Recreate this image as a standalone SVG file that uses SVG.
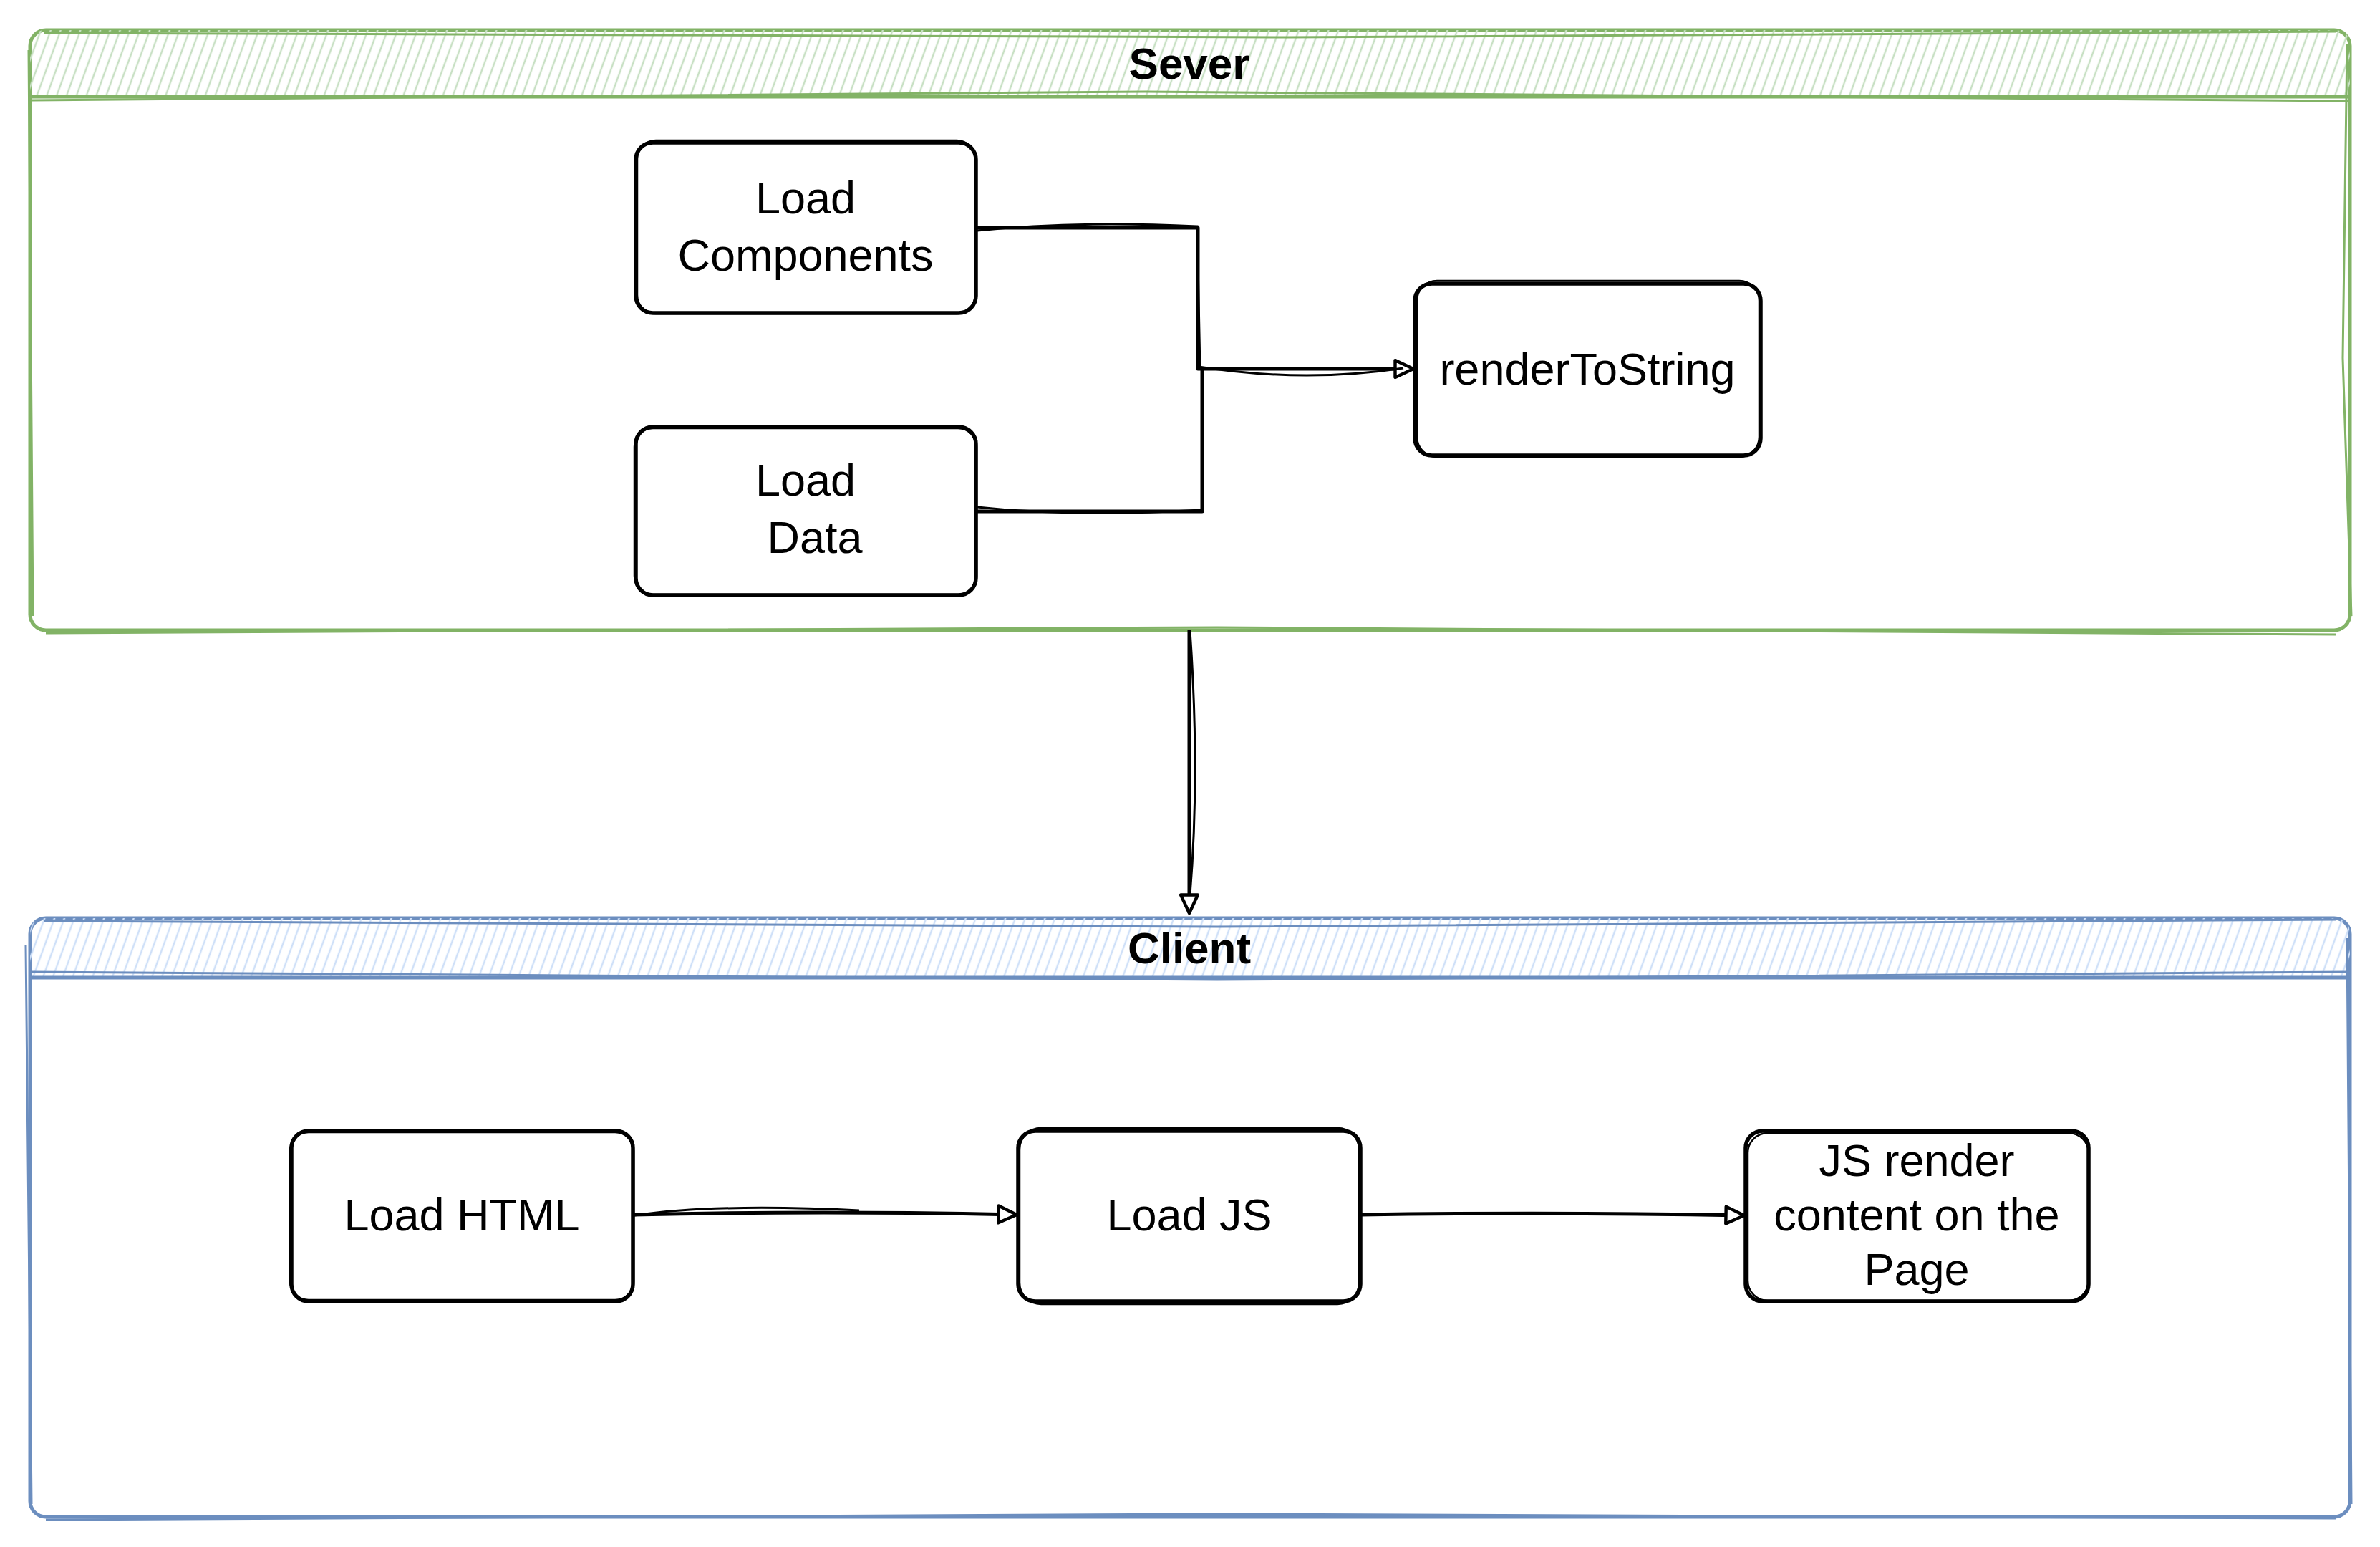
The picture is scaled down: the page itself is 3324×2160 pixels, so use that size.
<svg xmlns="http://www.w3.org/2000/svg" width="3324" height="2160" viewBox="0 0 3324 2160">
<style>
.node{fill:#ffffff;stroke:#000000;stroke-width:5.5}
.node2{fill:none;stroke:#000000;stroke-width:2.5}
.lbl{font-family:"Liberation Sans",Arial,sans-serif;font-size:63px;fill:#000000;text-anchor:middle}
.title{font-family:"Liberation Sans",Arial,sans-serif;font-size:62px;font-weight:bold;fill:#000000;text-anchor:middle}
.conn{fill:none;stroke:#000000;stroke-width:5;stroke-linejoin:round}
.conn2{fill:none;stroke:#000000;stroke-width:3}
.srv{fill:#ffffff;stroke:#82b366;stroke-width:5}
.cli{fill:#ffffff;stroke:#6c8ebf;stroke-width:5}
.srv2{fill:none;stroke:#82b366;stroke-width:3}
.cli2{fill:none;stroke:#6c8ebf;stroke-width:3}
</style>
<defs>
<pattern id="hg" width="13" height="13" patternUnits="userSpaceOnUse" patternTransform="rotate(20)">
<line x1="3" y1="0" x2="3" y2="13" stroke="#c8e0c4" stroke-width="2.5"/>
</pattern>
<pattern id="hb" width="13" height="13" patternUnits="userSpaceOnUse" patternTransform="rotate(20)">
<line x1="3" y1="0" x2="3" y2="13" stroke="#cfe0f8" stroke-width="2.5"/>
</pattern>
<marker id="arr" viewBox="0 0 20 20" refX="18" refY="10" markerWidth="34" markerHeight="34" orient="auto" markerUnits="userSpaceOnUse">
<path d="M3,3 L18,10 L3,17 Z" fill="#ffffff" stroke="#000000" stroke-width="2.6" stroke-linejoin="round"/>
</marker>
</defs>
<rect width="3324" height="2160" fill="#ffffff"/>

<g id="sever">
<rect class="srv" x="42" y="42" width="3240" height="838" rx="22"/>
<path d="M42,135 V64 Q42,42 64,42 H3260 Q3282,42 3282,64 V135 Z" fill="url(#hg)" stroke="none"/>
<line class="srv" x1="42" y1="135" x2="3282" y2="135"/>
<path class="srv2" d="M44,140 L1600,128 L3280,141"/>
<path class="srv2" d="M62,46 L1800,52 L3262,44 M3278,62 L3272,500 L3284,860 M40,70 L46,860 M64,884 L1700,876 L3262,886"/>
<text class="title" x="1661" y="110">Sever</text>
</g>

<g id="client">
<rect class="cli" x="42" y="1282" width="3240" height="836" rx="22"/>
<path d="M42,1365 V1304 Q42,1282 64,1282 H3260 Q3282,1282 3282,1304 V1365 Z" fill="url(#hb)" stroke="none"/>
<line class="cli" x1="42" y1="1365" x2="3282" y2="1365"/>
<path class="cli2" d="M44,1357 L1700,1368 L3280,1357"/>
<path class="cli2" d="M62,1286 L1700,1294 L3262,1284 M36,1320 L44,2100 M3278,1310 L3284,2100 M64,2122 L1700,2114 L3262,2120"/>
<text class="title" x="1661" y="1345">Client</text>
</g>

<g id="load-components">
<rect class="node" x="888" y="199" width="475" height="238" rx="24"/>
<rect class="node2" x="890" y="196" width="472" height="242" rx="26"/>
<text class="lbl" x="1125" y="298">Load</text>
<text class="lbl" x="1125" y="378">Components</text>
</g>

<g id="load-data">
<rect class="node" x="888" y="596" width="475" height="235" rx="24"/>
<rect class="node2" x="886" y="598" width="478" height="232" rx="26"/>
<text class="lbl" x="1125" y="692">Load</text>
<text class="lbl" x="1138" y="772">Data</text>
</g>

<g id="render-to-string">
<rect class="node" x="1976" y="396" width="483" height="240" rx="24"/>
<rect class="node2" x="1979" y="392" width="478" height="246" rx="28"/>
<text class="lbl" x="2217" y="537">renderToString</text>
</g>

<g id="load-html">
<rect class="node" x="407" y="1579" width="477" height="238" rx="24"/>
<rect class="node2" x="405" y="1581" width="480" height="234" rx="26"/>
<text class="lbl" x="645" y="1718">Load HTML</text>
</g>

<g id="load-js">
<rect class="node" x="1422" y="1579" width="478" height="238" rx="24"/>
<rect class="node2" x="1424" y="1575" width="474" height="246" rx="30"/>
<text class="lbl" x="1661" y="1718">Load JS</text>
</g>

<g id="js-render">
<rect class="node" x="2438" y="1579" width="479" height="238" rx="24"/>
<rect class="node2" x="2441" y="1582" width="476" height="234" rx="28"/>
<text class="lbl" x="2677" y="1642">JS render</text>
<text class="lbl" x="2677" y="1718">content on the</text>
<text class="lbl" x="2677" y="1794">Page</text>
</g>

<g id="connectors">
<path class="conn" d="M1363,318 H1673 V515 H1974" marker-end="url(#arr)"/>
<path class="conn2" d="M1365,322 Q1500,308 1672,316 L1676,515"/>
<path class="conn" d="M1363,714 H1679 V515"/>
<path class="conn2" d="M1365,708 Q1500,722 1678,712 M1674,512 Q1820,535 1960,514"/>
<path class="conn" d="M1661,880 V1275" marker-end="url(#arr)"/>
<path class="conn2" d="M1662,880 Q1676,1080 1662,1250"/>
<path class="conn" d="M884,1696 Q1150,1690 1420,1696" marker-end="url(#arr)"/>
<path class="conn2" d="M886,1697 Q1000,1680 1200,1690"/>
<path class="conn" d="M1900,1696 Q2170,1692 2436,1697" marker-end="url(#arr)"/>
</g>
</svg>
